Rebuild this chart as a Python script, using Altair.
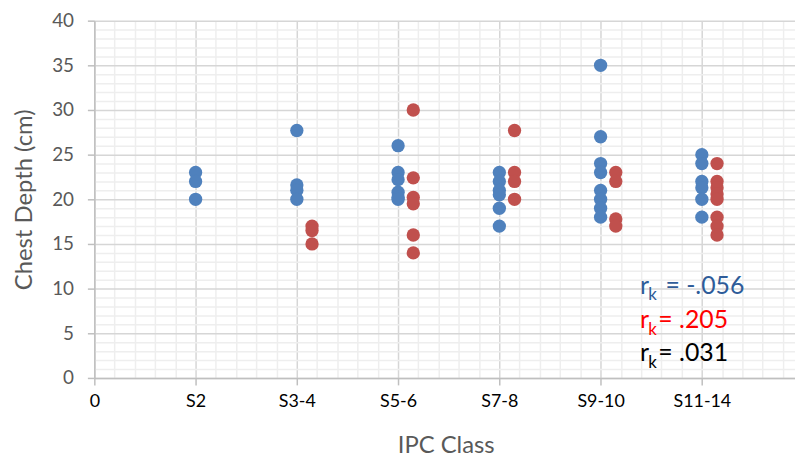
import json
import altair as alt
import pandas as pd

# ---- data ----
classes = ["0", "S2", "S3-4", "S5-6", "S7-8", "S9-10", "S11-14"]

blue_values = {
    "S2": [23, 22, 20],
    "S3-4": [27.7, 21.6, 21, 20],
    "S5-6": [26, 23, 22.2, 20.8, 20.2, 20],
    "S7-8": [23, 22, 21, 20.5, 19, 17],
    "S9-10": [35, 27, 24, 23, 21, 20, 19, 18],
    "S11-14": [25, 24, 22, 21.3, 20, 18],
}
red_values = {
    "S3-4": [17, 16.5, 15],
    "S5-6": [30, 22.4, 20.2, 19.5, 16, 14],
    "S7-8": [27.7, 23, 22, 20],
    "S9-10": [23, 22, 17.8, 17],
    "S11-14": [24, 22, 21.3, 20.6, 20, 18, 17, 16],
}
red_offset = 0.15

ann_colors = ["#2E5C99", "#FF0000", "#000000"]
ann_values = ["= -.056", "= .205", "= .031"]
ann_r_x = [5.39, 5.39, 5.39]
ann_k_x = [5.47, 5.47, 5.47]
ann_rest_x = [5.64, 5.57, 5.57]
ann_y = [9.45, 5.6, 1.87]
ann_k_drop = 0.75

# ---- tables ----
rows = []
for cls, vals in blue_values.items():
    for v in vals:
        rows.append({"x": classes.index(cls), "y": v, "series": "blue"})
for cls, vals in red_values.items():
    for v in vals:
        rows.append({"x": classes.index(cls) + red_offset, "y": v, "series": "red"})
pts = pd.DataFrame(rows)

ann = pd.DataFrame({
    "rx": ann_r_x, "kx": ann_k_x, "tx": ann_rest_x,
    "y": ann_y, "ky": [v - ann_k_drop for v in ann_y],
    "rest": ann_values, "color": ann_colors,
})

FONT = "Lato"
x_vals = [round(i * 0.2, 1) for i in range(35)]
y_vals = list(range(0, 41))
lab_arr = json.dumps(classes)

x_scale = alt.Scale(domain=[0, 6.92], nice=False, zero=False)
y_scale = alt.Scale(domain=[0, 40], nice=False)

x_axis = alt.Axis(
    values=x_vals, tickCount=200,
    labelExpr=f"datum.value % 1 === 0 ? {lab_arr}[datum.value] : ''",
    labelOverlap=False, labelBound=False, labelFlush=False,
    labelFont=FONT, labelFontSize=18, labelColor="#000000", labelPadding=8,
    tickSize=7, tickColor="#bfbfbf", tickWidth=1.5,
    tickOpacity={"condition": {"test": "datum.value % 1 === 0", "value": 1}, "value": 0},
    grid=True,
    gridColor={"condition": {"test": "datum.value % 1 === 0", "value": "#d6d6d6"}, "value": "#eeeeee"},
    gridWidth=1.5,
    domainColor="#bfbfbf", domainWidth=1.5,
    title="IPC Class", titleFont=FONT, titleFontSize=24, titleFontWeight="normal",
    titleColor="#595959", titleX=354, titleY=68, titleBaseline="middle", titleAlign="center",
)
y_axis = alt.Axis(
    values=y_vals, tickCount=200,
    labelExpr="datum.value % 5 === 0 ? datum.value : ''",
    labelOverlap=False, labelBound=False, labelFlush=False,
    labelFont=FONT, labelFontSize=19, labelColor="#595959", labelPadding=14,
    tickSize=7, tickColor="#bfbfbf", tickWidth=1.5,
    tickOpacity={"condition": {"test": "datum.value % 5 === 0", "value": 1}, "value": 0},
    grid=True,
    gridColor={"condition": {"test": "datum.value % 5 === 0", "value": "#d6d6d6"}, "value": "#eeeeee"},
    gridWidth=1.5,
    domainColor="#bfbfbf", domainWidth=1.5,
    title="Chest Depth (cm)", titleFont=FONT, titleFontSize=24, titleFontWeight="normal",
    titleColor="#595959", titleX=-70, titleY=180, titleAngle=-90,
    titleBaseline="middle", titleAlign="center",
)

points = alt.Chart(pts).mark_circle(size=180, opacity=1).encode(
    x=alt.X("x:Q", scale=x_scale, axis=x_axis),
    y=alt.Y("y:Q", scale=y_scale, axis=y_axis),
    color=alt.Color("series:N", scale=alt.Scale(domain=["blue", "red"], range=["#4F81BD", "#C0504D"]), legend=None),
)

base_ann = alt.Chart(ann)
r_text = base_ann.mark_text(font=FONT, fontSize=25, align="left", baseline="alphabetic").encode(
    x=alt.X("rx:Q", scale=x_scale), y=alt.Y("y:Q", scale=y_scale),
    text=alt.value("r"), color=alt.Color("color:N", scale=None),
)
k_text = base_ann.mark_text(font=FONT, fontSize=17, align="left", baseline="alphabetic").encode(
    x=alt.X("kx:Q", scale=x_scale), y=alt.Y("ky:Q", scale=y_scale),
    text=alt.value("k"), color=alt.Color("color:N", scale=None),
)
rest_text = base_ann.mark_text(font=FONT, fontSize=25, align="left", baseline="alphabetic").encode(
    x=alt.X("tx:Q", scale=x_scale), y=alt.Y("y:Q", scale=y_scale),
    text="rest:N", color=alt.Color("color:N", scale=None),
)

chart = alt.layer(points, r_text, k_text, rest_text).properties(
    width=706, height=360,
    autosize=alt.AutoSizeParams(type="none"),
    padding={"left": 87, "top": 11, "right": 0, "bottom": 90},
).configure_view(strokeWidth=0)

chart.save("out.html", embed_options={"renderer": "svg", "actions": False})
